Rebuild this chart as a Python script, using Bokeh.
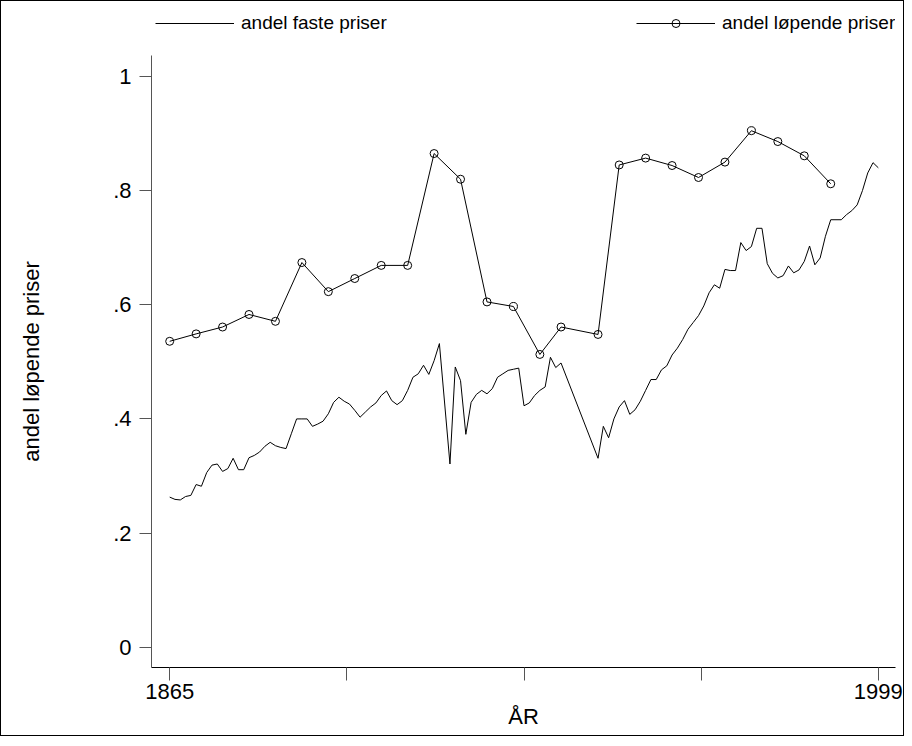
from bokeh.plotting import figure
from bokeh.layouts import column
from bokeh.models import Range1d, FixedTicker, Legend, LegendItem
from bokeh.embed import file_html
from bokeh.resources import INLINE

# ---- data -------------------------------------------------------------
years_faste = [
    1865, 1866, 1867, 1868, 1869, 1870, 1871, 1872, 1873, 1874,
    1875, 1876, 1877, 1878, 1879, 1880, 1881, 1882, 1883, 1884,
    1885, 1886, 1887, 1888, 1889, 1890, 1891, 1892, 1893, 1894,
    1895, 1896, 1897, 1898, 1899, 1900, 1901, 1902, 1903, 1904,
    1905, 1906, 1907, 1908, 1909, 1910, 1911, 1912, 1913, 1914,
    1915, 1916, 1918, 1919, 1920, 1921, 1922, 1923, 1924, 1925,
    1926, 1927, 1928, 1929, 1930, 1931, 1932, 1933, 1934, 1935,
    1936, 1937, 1938, 1939, 1946, 1947, 1948, 1949, 1950, 1951,
    1952, 1953, 1954, 1955, 1956, 1957, 1958, 1959, 1960, 1961,
    1962, 1963, 1964, 1965, 1966, 1967, 1968, 1969, 1970, 1971,
    1972, 1973, 1974, 1975, 1976, 1977, 1978, 1979, 1980, 1981,
    1982, 1983, 1984, 1985, 1986, 1987, 1988, 1989, 1990, 1991,
    1992, 1993, 1994, 1995, 1996, 1997, 1998, 1999,
]
andel_faste = [
    0.263, 0.259, 0.258, 0.264, 0.266, 0.285, 0.282, 0.306, 0.319, 0.321,
    0.308, 0.313, 0.331, 0.311, 0.311, 0.332, 0.336, 0.342, 0.352, 0.359,
    0.353, 0.350, 0.348, 0.374, 0.400, 0.400, 0.400, 0.387, 0.391, 0.396,
    0.409, 0.429, 0.438, 0.431, 0.426, 0.415, 0.403, 0.412, 0.421, 0.428,
    0.441, 0.449, 0.432, 0.425, 0.432, 0.450, 0.473, 0.479, 0.494, 0.478,
    0.502, 0.532, 0.321, 0.491, 0.467, 0.373, 0.429, 0.443, 0.450, 0.444,
    0.453, 0.473, 0.479, 0.485, 0.487, 0.489, 0.423, 0.428, 0.441, 0.450,
    0.456, 0.508, 0.490, 0.498, 0.331, 0.387, 0.367, 0.400, 0.421, 0.432,
    0.408, 0.416, 0.431, 0.450, 0.469, 0.469, 0.486, 0.493, 0.512, 0.524,
    0.539, 0.557, 0.569, 0.581, 0.598, 0.621, 0.635, 0.629, 0.662, 0.660,
    0.660, 0.709, 0.695, 0.702, 0.734, 0.734, 0.672, 0.655, 0.647, 0.651,
    0.668, 0.656, 0.661, 0.676, 0.703, 0.670, 0.682, 0.720, 0.749, 0.749,
    0.749, 0.758, 0.765, 0.775, 0.800, 0.831, 0.849, 0.840,
]

years_lopende = [
    1865, 1870, 1875, 1880, 1885, 1890, 1895, 1900, 1905, 1910,
    1915, 1920, 1925, 1930, 1935, 1939, 1946, 1950, 1955, 1960,
    1965, 1970, 1975, 1980, 1985, 1990,
]
andel_lopende = [
    0.536, 0.549, 0.561, 0.583, 0.571, 0.674, 0.623, 0.646, 0.669, 0.669,
    0.865, 0.820, 0.605, 0.597, 0.513, 0.561, 0.548, 0.845, 0.857, 0.844,
    0.823, 0.850, 0.905, 0.886, 0.861, 0.812,
]

x_ticks = [1865, 1898.5, 1932, 1965.5, 1999]
x_tick_labels = ["1865", "", "", "", "1999"]
y_ticks = [0, 0.2, 0.4, 0.6, 0.8, 1]
y_tick_labels = ["0", ".2", ".4", ".6", ".8", "1"]

series_names = ["andel faste priser", "andel løpende priser"]
x_title = "ÅR"
y_title = "andel løpende priser"

FONT = "Liberation Sans"

# ---- layout -----------------------------------------------------------
W = 902
LEG_H = 54
MAIN_H = 680
LEFT, RIGHT, BOTTOM = 150, 8, 68

# ---- main plot ----------------------------------------------------------
p = figure(
    width=W, height=MAIN_H,
    output_backend="svg", toolbar_location=None,
    x_range=Range1d(1861.56, 2002.25),
    y_range=Range1d(-0.0356, 1.0368),
    min_border_left=LEFT, min_border_right=RIGHT,
    min_border_top=0, min_border_bottom=BOTTOM,
)
p.outline_line_color = None
p.xgrid.visible = False
p.ygrid.visible = False
p.background_fill_color = "white"
p.border_fill_color = "white"

p.line(years_faste, andel_faste, line_color="black", line_width=1)
p.line(years_lopende, andel_lopende, line_color="black", line_width=1)
p.scatter(years_lopende, andel_lopende, marker="circle", size=8,
          fill_color=None, line_color="black", line_width=1)

xa = p.xaxis[0]
xa.ticker = FixedTicker(ticks=x_ticks)
xa.major_label_overrides = dict(zip(x_ticks, x_tick_labels))
xa.axis_label = x_title
ya = p.yaxis[0]
ya.ticker = FixedTicker(ticks=y_ticks)
ya.major_label_overrides = dict(zip(y_ticks, y_tick_labels))
ya.axis_label = y_title
ya.major_label_orientation = "horizontal"

for ax in (xa, ya):
    ax.axis_line_color = "black"
    ax.axis_line_width = 1
    ax.major_tick_line_color = "#555555"
    ax.major_tick_in = 0
    ax.minor_tick_line_color = None
    ax.major_label_text_font = FONT
    ax.major_label_text_font_size = "22px"
    ax.major_label_text_color = "black"
    ax.axis_label_text_font = FONT
    ax.axis_label_text_font_size = "22px"
    ax.axis_label_text_font_style = "normal"
    ax.axis_label_text_color = "black"

xa.major_tick_out = 13
xa.major_label_standoff = 3
xa.axis_label_standoff = 2
ya.major_tick_out = 12
ya.major_label_standoff = 8
ya.axis_label_standoff = 66
ya.axis_line_color = "#555555"

# ---- legend strip above the plot (its frame is aligned with the main one) --
top = figure(
    width=W, height=LEG_H, output_backend="svg", toolbar_location=None,
    x_range=Range1d(0, 1), y_range=Range1d(0, 1),
    x_axis_location=None, y_axis_location=None,
    min_border_left=0, min_border_right=0, min_border_top=0, min_border_bottom=0,
)
top.outline_line_color = None
top.xgrid.visible = False
top.ygrid.visible = False
top.border_fill_color = "white"

# key glyphs (kept outside the visible range; only their legend swatches show)
k_faste = top.line([-10, -9], [-10, -9], line_color="black", line_width=1)
k_lop_line = top.line([-10, -9], [-10, -9], line_color="black", line_width=1)
k_lop_pts = top.scatter([-10], [-10], marker="circle", size=8,
                        fill_color=None, line_color="black", line_width=1)

leg1 = Legend(items=[LegendItem(label=series_names[0], renderers=[k_faste])],
              location=(4, 21))
leg2 = Legend(items=[LegendItem(label=series_names[1], renderers=[k_lop_line, k_lop_pts])],
              location=(485, 21))
for lg in (leg1, leg2):
    lg.border_line_color = None
    lg.background_fill_alpha = 0
    lg.padding = 0
    lg.margin = 0
    lg.glyph_width = 79
    lg.glyph_height = 20
    lg.label_height = 20
    lg.label_standoff = 7
    lg.label_text_font = FONT
    lg.label_text_font_size = "19px"
    lg.label_text_color = "black"
    top.add_layout(lg)

layout = column(top, p, spacing=0)
layout.styles = {"border": "1px solid black"}

open("out.html", "w").write(file_html(layout, INLINE))
